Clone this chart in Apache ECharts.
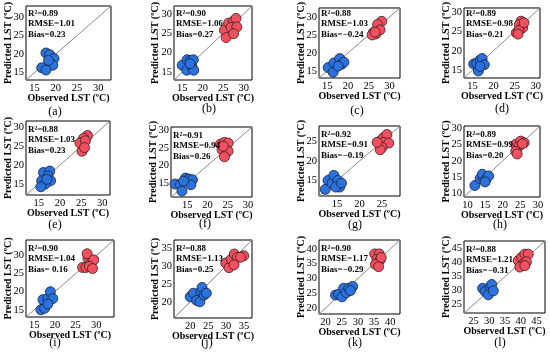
<!DOCTYPE html>
<html><head><meta charset="utf-8">
<script src="https://cdn.jsdelivr.net/npm/echarts@6/dist/echarts.min.js"></script>
<style>html,body{margin:0;padding:0;background:#fff}#c{width:550px;height:354px}</style>
</head><body><div id="c"></div>
<script>
// ---- data ----
const panelLetters = ['a','b','c','d','e','f','g','h','i','j','k','l'];
const r2   = ['0.89','0.90','0.88','0.89','0.88','0.91','0.92','0.89','0.90','0.88','0.90','0.88'];
const rmse = ['1.01','1.06','1.03','0.98','1.03','0.94','0.91','0.99','1.04','1.13','1.17','1.21'];
const bias = ['0.23','0.27','−0.24','0.21','0.23','0.26','−0.19','0.20',' 0.16','0.25','−0.29','−0.31'];
const axisMin = [13,13,13,13,12,11,11,9,13,15.5,18,22];
const axisMax = [33,32,32.5,31,31.8,31,29,30.6,34.3,37.2,43,47.7];
const ticks_a = [15,20,25,30], ticks_b = [15,20,25,30], ticks_c = [15,20,25,30], ticks_d = [15,20,25,30];
const ticks_e = [15,20,25,30], ticks_f = [15,20,25,30], ticks_g = [15,20,25], ticks_h = [10,15,20,25,30];
const ticks_i = [15,20,25,30], ticks_j = [20,25,30,35], ticks_k = [20,25,30,35,40], ticks_l = [25,30,35,40,45];

const blue_a = [[17.7,20.3],[18.6,19.8],[19.6,18.8],[18.6,17.6],[19.3,17.0],[16.7,16.3],[17.7,15.7],[18.3,18.3]];
const red_a  = [];
const blue_b = [[15.0,16.8],[16.1,15.5],[16.2,18.2],[17.0,18.0],[17.4,16.4],[17.8,15.5],[17.7,18.2],[16.9,17.2]];
const red_b  = [[25.3,25.8],[26.3,27.6],[27.5,28.1],[28.1,28.8],[26.9,26.5],[28.3,26.6],[25.7,23.9],[27.5,24.9]];
const blue_c = [[15.2,15.9],[16.4,14.6],[16.6,17.2],[18.0,18.4],[18.4,16.8],[19.0,17.4],[17.6,16.3]];
const red_c  = [[28.1,28.8],[27.1,27.9],[26.1,25.7],[26.7,25.3],[27.7,26.4],[25.8,25.0],[26.5,25.8]];
const blue_d = [[15.3,16.6],[16.0,16.8],[16.8,17.6],[17.3,18.0],[16.4,14.8],[17.8,16.4],[16.8,16.0]];
const red_d  = [[26.5,27.6],[26.1,26.7],[26.9,25.9],[25.4,24.6],[26.0,25.2],[27.2,27.2],[25.8,24.3]];
const blue_e = [[16.1,18.0],[17.6,18.4],[17.2,17.1],[15.7,15.8],[17.8,15.8],[16.5,14.9],[15.5,14.2],[16.9,16.2]];
const red_e  = [[26.5,27.9],[25.6,27.2],[24.7,25.9],[26.0,26.5],[25.2,23.7],[25.8,24.7]];
const blue_f = [[12.0,14.7],[13.3,14.5],[14.6,16.4],[15.4,16.1],[16.3,15.9],[13.7,12.7],[15.9,14.5],[14.1,15.5]];
const red_f  = [[23.2,26.1],[24.2,26.6],[25.1,26.4],[23.6,24.5],[25.1,24.1],[24.2,22.5],[23.9,25.5]];
const blue_g = [[12.4,12.7],[13.0,15.0],[13.9,14.3],[14.3,16.3],[15.2,15.0],[15.6,13.3],[14.7,13.3],[16.0,14.3]];
const red_g  = [[24.4,25.0],[25.3,26.0],[26.1,26.8],[25.4,24.8],[26.5,24.6],[25.0,23.5],[24.6,22.9],[23.9,24.8]];
const blue_h = [[12.1,12.5],[13.6,14.6],[14.5,14.8],[14.2,15.9],[15.2,14.3],[16.0,15.4],[15.0,13.6]];
const red_h  = [[23.7,25.0],[25.1,26.0],[26.1,25.5],[24.6,24.4],[23.7,22.9],[24.1,22.1],[25.6,25.2]];
const blue_i = [[16.6,15.0],[17.5,15.4],[17.1,17.8],[18.3,18.1],[18.9,20.0],[19.5,18.1],[18.3,16.6]];
const red_i  = [[26.7,26.7],[27.5,26.7],[28.0,29.2],[28.8,28.0],[27.8,30.5],[29.4,28.8],[28.3,27.0],[29.1,26.4]];
const blue_j = [[20.0,21.4],[20.9,22.4],[21.8,20.4],[22.7,20.0],[23.0,22.9],[23.3,24.0],[23.9,21.9],[24.5,22.4]];
const red_j  = [[29.9,30.8],[30.8,29.5],[31.4,31.8],[32.3,33.3],[33.1,32.4],[32.2,30.3],[34.9,32.8],[34.0,32.4]];
const blue_k = [[23.1,24.4],[24.1,24.7],[25.1,23.8],[25.6,26.7],[26.4,25.2],[27.2,26.7],[28.4,27.3],[27.7,25.9]];
const red_k  = [[35.2,38.3],[36.6,38.3],[35.9,36.5],[36.9,36.3],[35.4,34.8],[36.4,34.0],[37.2,37.1]];
const blue_l = [[27.9,30.8],[28.7,29.7],[30.3,31.4],[30.8,32.2],[29.7,28.5],[31.3,29.9]];
const red_l  = [[39.2,40.7],[40.3,41.9],[41.3,43.0],[42.4,43.0],[40.8,39.5],[41.8,40.3],[39.7,38.4],[41.3,38.9]];

const tickSets = [ticks_a,ticks_b,ticks_c,ticks_d,ticks_e,ticks_f,ticks_g,ticks_h,ticks_i,ticks_j,ticks_k,ticks_l];
const blues = [blue_a,blue_b,blue_c,blue_d,blue_e,blue_f,blue_g,blue_h,blue_i,blue_j,blue_k,blue_l];
const reds  = [red_a,red_b,red_c,red_d,red_e,red_f,red_g,red_h,red_i,red_j,red_k,red_l];

// ---- layout ----
const gridRects = [[26,5,85,75],[174,5,78,75],[319,5,81,73],[464,5,76,73],
                   [26,121,84,74],[171,127,81,70],[319,126,81,70],[464,126,76,71],
                   [26,240,88,77],[174,240,78,78],[319,240,81,74],[464,241,81,72]];
const yNameGap = [13,14,13,13,13,13,13,13,13,14,13,13];
const labelPos = [[55,113],[209,110],[357,112],[502,110],[55,226],[205,225],[355,226],[500,226],[55,344],[207,344],[355,344],[500,344]];

const FONT = '"Liberation Serif","Times New Roman",serif';
const grid=[], xAxis=[], yAxis=[], series=[], title=[];
panelLetters.forEach((L,i)=>{
  const [gl,gt,gw,gh] = gridRects[i];
  grid.push({left:gl,top:gt,width:gw,height:gh,show:true,borderColor:'#000',borderWidth:1,backgroundColor:'transparent'});
  const common = {min:axisMin[i],max:axisMax[i],gridIndex:i,splitLine:{show:false},
    axisLine:{show:false},
    axisTick:{show:false},
    axisLabel:{customValues:tickSets[i],fontFamily:FONT,fontSize:10.5,color:'#000',margin:2},
    nameLocation:'middle',nameMoveOverlap:false,
    nameTextStyle:{fontFamily:FONT,fontSize:10,fontWeight:'bold',color:'#000'}};
  xAxis.push(Object.assign({},common,{type:'value',name:'Observed LST (ºC)',nameGap:13,
    axisLabel:Object.assign({},common.axisLabel,{margin:3})}));
  yAxis.push(Object.assign({},common,{type:'value',name:'Predicted LST (ºC)',nameGap:yNameGap[i],nameRotate:90}));
  series.push({type:'line',xAxisIndex:i,yAxisIndex:i,data:[[axisMin[i],axisMin[i]],[axisMax[i],axisMax[i]]],
    symbol:'none',silent:true,lineStyle:{color:'#8a8a8a',width:1},z:1});
  series.push({type:'scatter',xAxisIndex:i,yAxisIndex:i,data:blues[i],symbolSize:10,
    itemStyle:{color:'#2a72dd',borderColor:'#1a2238',borderWidth:0.8,opacity:1},z:3});
  series.push({type:'scatter',xAxisIndex:i,yAxisIndex:i,data:reds[i],symbolSize:10,
    itemStyle:{color:'#f2505e',borderColor:'#3a1a1e',borderWidth:0.8,opacity:1},z:3});
  title.push({text:'R²='+r2[i]+'\nRMSE='+rmse[i]+'\nBias='+bias[i],left:gl+2,top:gt+3,padding:0,
    textStyle:{fontFamily:FONT,fontSize:9,fontWeight:'bold',color:'#000',lineHeight:10.5}});
  title.push({text:'('+L+')',left:labelPos[i][0],top:labelPos[i][1]-7,textAlign:'center',padding:0,
    textStyle:{fontFamily:FONT,fontSize:12,fontWeight:'normal',color:'#000'}});
});
const chart = echarts.init(document.getElementById('c'),null,{renderer:'canvas'});
chart.setOption({animation:false,backgroundColor:'#fff',title,grid,xAxis,yAxis,series});
</script></body></html>
